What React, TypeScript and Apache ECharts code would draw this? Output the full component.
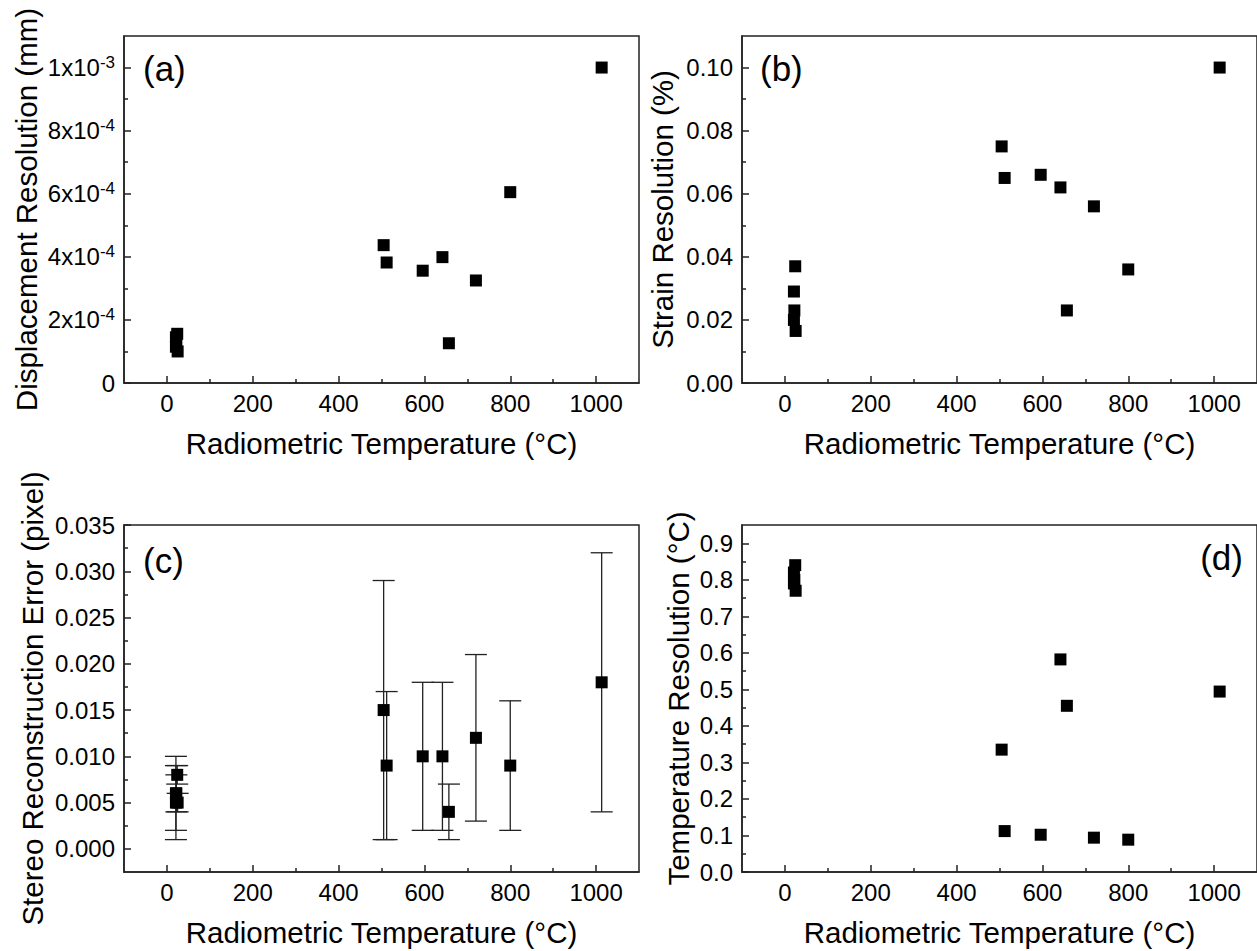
import React, { useEffect, useRef } from "react";
import * as echarts from "echarts";

const FONT = "Arial, Liberation Sans, sans-serif";
const INK = "#000";
const LINE = "#222";

// Radiometric temperature of each test (°C): five room-temperature tests, then heated tests
const temps = [24, 21, 22, 21, 25, 505, 512, 596, 642, 657, 720, 800, 1013];

// (a) Displacement resolution (mm)
const dispRes = [1.56e-4, 1.45e-4, 1.3e-4, 1.15e-4, 1.0e-4, 4.37e-4, 3.82e-4, 3.56e-4, 3.99e-4, 1.26e-4, 3.25e-4, 6.05e-4, 1.0e-3];
// (b) Strain resolution (%)
const strainRes = [0.037, 0.029, 0.023, 0.02, 0.0165, 0.075, 0.065, 0.066, 0.062, 0.023, 0.056, 0.036, 0.1];
// (c) Stereo reconstruction error (pixel) and its +/- error
const stereoErr = [0.008, 0.006, 0.006, 0.005, 0.005, 0.015, 0.009, 0.01, 0.01, 0.004, 0.012, 0.009, 0.018];
const stereoErrBar = [0.001, 0.004, 0.002, 0.004, 0.001, 0.014, 0.008, 0.008, 0.008, 0.003, 0.009, 0.007, 0.014];
// (d) Temperature resolution (°C)
const tempRes = [0.84, 0.82, 0.8, 0.79, 0.77, 0.335, 0.112, 0.102, 0.582, 0.455, 0.094, 0.0885, 0.494];

// Tick values
const xMajor = [0, 200, 400, 600, 800, 1000];
const xMinor = [100, 300, 500, 700, 900];
const yMajorA = [0, 2e-4, 4e-4, 6e-4, 8e-4, 1e-3];
const yMinorA = [1e-4, 3e-4, 5e-4, 7e-4, 9e-4];
const yMajorB = [0, 0.02, 0.04, 0.06, 0.08, 0.1];
const yMinorB = [0.01, 0.03, 0.05, 0.07, 0.09];
const yMajorC = [0, 0.005, 0.01, 0.015, 0.02, 0.025, 0.03, 0.035];
const yMinorC = [0.0025, 0.0075, 0.0125, 0.0175, 0.0225, 0.0275, 0.0325];
const yMajorD = [0, 0.1, 0.2, 0.3, 0.4, 0.5, 0.6, 0.7, 0.8, 0.9];
const yMinorD = [0.05, 0.15, 0.25, 0.35, 0.45, 0.55, 0.65, 0.75, 0.85];

const xTitle = "Radiometric Temperature (°C)";
const panelLabels = ["(a)", "(b)", "(c)", "(d)"];

const lineStyle = { color: LINE, width: 1.5 };
const TICK_FS = 24;
const TITLE_FS = 29.5;

function sciFormat(v: number): string {
  if (Math.abs(v) < 1e-12) return "0";
  const e = Math.floor(Math.log10(v) + 1e-9);
  const m = Math.round(v / Math.pow(10, e));
  return `{n|${m}x10}{s|${e}}`;
}

function xAxes(g: number) {
  return [
    {
      gridIndex: g,
      type: "value",
      min: -100,
      max: 1100,
      position: "bottom",
      name: xTitle,
      nameLocation: "middle",
      nameGap: 45,
      nameTextStyle: { fontSize: TITLE_FS, fontFamily: FONT, color: INK },
      axisLine: { show: true, onZero: false, lineStyle },
      axisTick: { show: true, inside: true, length: 7, customValues: xMajor, lineStyle },
      axisLabel: { customValues: xMajor, fontSize: TICK_FS, fontFamily: FONT, color: INK, margin: 8, formatter: (v: number) => String(Math.round(v)) },
      splitLine: { show: false },
    },
    {
      gridIndex: g,
      type: "value",
      min: -100,
      max: 1100,
      position: "bottom",
      axisLine: { show: false, onZero: false },
      axisTick: { show: true, inside: true, length: 4, customValues: xMinor, lineStyle },
      axisLabel: { show: false },
      splitLine: { show: false },
    },
  ];
}

function yAxes(g: number, min: number, max: number, major: number[], minor: number[], name: string, nameGap: number, formatter: any, rich?: any) {
  return [
    {
      gridIndex: g,
      type: "value",
      min,
      max,
      position: "left",
      name,
      nameLocation: "middle",
      nameGap,
      nameTextStyle: { fontSize: TITLE_FS, fontFamily: FONT, color: INK },
      axisLine: { show: true, onZero: false, lineStyle },
      axisTick: { show: true, inside: true, length: 7, customValues: major, lineStyle },
      axisLabel: { customValues: major, fontSize: TICK_FS, fontFamily: FONT, color: INK, margin: 9, formatter, rich },
      splitLine: { show: false },
    },
    {
      gridIndex: g,
      type: "value",
      min,
      max,
      position: "left",
      axisLine: { show: false, onZero: false },
      axisTick: { show: true, inside: true, length: 4, customValues: minor, lineStyle },
      axisLabel: { show: false },
      splitLine: { show: false },
    },
  ];
}

function scatter(g: number, values: number[]) {
  return {
    type: "scatter",
    xAxisIndex: 2 * g,
    yAxisIndex: 2 * g,
    symbol: "rect",
    symbolSize: 12,
    itemStyle: { color: "#000", opacity: 1 },
    data: temps.map((t, i) => [t, values[i]]),
    z: 5,
  };
}

export default function App() {
  const ref = useRef<HTMLDivElement>(null);

  useEffect(() => {
    if (!ref.current) return;
    const chart = echarts.init(ref.current, null, { renderer: "svg" });

    const grids = [
      { left: 124, top: 36, width: 515, height: 347 },
      { left: 742, top: 36, width: 516, height: 347 },
      { left: 124, top: 525, width: 515, height: 347 },
      { left: 742, top: 525, width: 516, height: 347 },
    ].map((g) => ({ ...g, show: true, borderColor: LINE, borderWidth: 1.5, backgroundColor: "transparent" }));

    const richA = {
      n: { fontSize: TICK_FS, fontFamily: FONT, color: INK },
      s: { fontSize: 17, fontFamily: FONT, color: INK, padding: [0, 0, 11, 0] },
    };

    const errData = temps.map((t, i) => [t, stereoErr[i] - stereoErrBar[i], stereoErr[i] + stereoErrBar[i]]);

    const option: any = {
      animation: false,
      backgroundColor: "#fff",
      textStyle: { fontFamily: FONT },
      grid: grids,
      xAxis: [...xAxes(0), ...xAxes(1), ...xAxes(2), ...xAxes(3)],
      yAxis: [
        ...yAxes(0, 0, 1.1e-3, yMajorA, yMinorA, "Displacement Resolution (mm)", 83, sciFormat, richA),
        ...yAxes(1, 0, 0.11, yMajorB, yMinorB, "Strain Resolution (%)", 65, (v: number) => v.toFixed(2)),
        ...yAxes(2, -0.0025, 0.035, yMajorC, yMinorC, "Stereo Reconstruction Error (pixel)", 77, (v: number) => v.toFixed(3)),
        ...yAxes(3, 0, 0.95, yMajorD, yMinorD, "Temperature Resolution (°C)", 49, (v: number) => v.toFixed(1)),
      ],
      series: [
        scatter(0, dispRes),
        scatter(1, strainRes),
        {
          type: "custom",
          xAxisIndex: 4,
          yAxisIndex: 4,
          encode: { x: 0, y: [1, 2] },
          data: errData,
          z: 3,
          renderItem: (params: any, api: any) => {
            const x = api.value(0);
            const lo = api.coord([x, api.value(1)]);
            const hi = api.coord([x, api.value(2)]);
            const hw = 11;
            const st = { stroke: "#222", lineWidth: 1.3 };
            return {
              type: "group",
              children: [
                { type: "line", shape: { x1: lo[0], y1: lo[1], x2: hi[0], y2: hi[1] }, style: st },
                { type: "line", shape: { x1: lo[0] - hw, y1: lo[1], x2: lo[0] + hw, y2: lo[1] }, style: st },
                { type: "line", shape: { x1: hi[0] - hw, y1: hi[1], x2: hi[0] + hw, y2: hi[1] }, style: st },
              ],
            };
          },
        },
        scatter(2, stereoErr),
        scatter(3, tempRes),
      ],
      graphic: [
        { type: "text", x: 143, y: 68, style: { text: panelLabels[0], fontSize: 35, fontFamily: FONT, fill: INK, align: "left", verticalAlign: "middle" } },
        { type: "text", x: 760, y: 68, style: { text: panelLabels[1], fontSize: 35, fontFamily: FONT, fill: INK, align: "left", verticalAlign: "middle" } },
        { type: "text", x: 143, y: 560, style: { text: panelLabels[2], fontSize: 35, fontFamily: FONT, fill: INK, align: "left", verticalAlign: "middle" } },
        { type: "text", x: 1243, y: 557, style: { text: panelLabels[3], fontSize: 35, fontFamily: FONT, fill: INK, align: "right", verticalAlign: "middle" } },
      ],
    };

    chart.setOption(option);
    return () => chart.dispose();
  }, []);

  return (
    <div
      ref={ref}
      style={{ position: "absolute", left: 0, top: 0, width: 1257, height: 951, background: "#fff" }}
    />
  );
}
